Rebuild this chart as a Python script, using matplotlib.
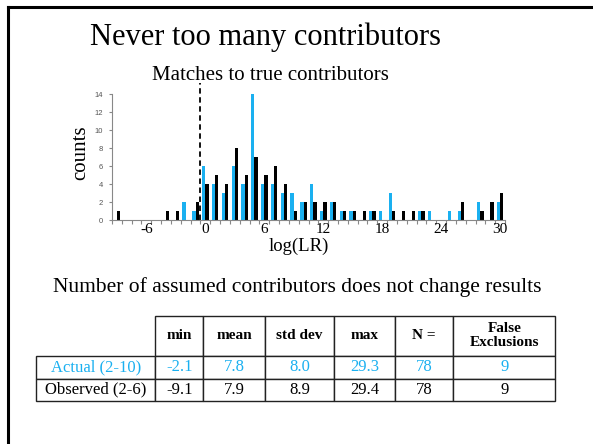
import matplotlib.pyplot as plt
import numpy as np
from matplotlib.lines import Line2D

# histogram of log(LR) per category
bins = list(range(-9, 31))
actual = {-2: 2, -1: 1, 0: 6, 1: 4, 2: 3, 3: 6, 4: 4, 5: 14, 6: 4, 7: 4, 8: 3,
          9: 3, 10: 2, 11: 4, 12: 1, 13: 2, 14: 1, 15: 1, 17: 1, 18: 1, 19: 3,
          22: 1, 23: 1, 25: 1, 26: 1, 28: 2, 30: 2}
observed = {-9: 1, -4: 1, -3: 1, -1: 2, 0: 4, 1: 5, 2: 4, 3: 8, 4: 5, 5: 7,
            6: 5, 7: 6, 8: 4, 9: 1, 10: 2, 11: 2, 12: 2, 13: 2, 14: 1, 15: 1,
            16: 1, 17: 1, 19: 1, 20: 1, 21: 1, 22: 1, 26: 2, 28: 1, 29: 2, 30: 3}
actual_counts = [actual.get(b, 0) for b in bins]
observed_counts = [observed.get(b, 0) for b in bins]
xtick_labels = [-6, 0, 6, 12, 18, 24, 30]
ytick_vals = list(range(0, 15, 2))

# summary table
col_labels = ["", "min", "mean", "std dev", "max", "N =", "False\nExclusions"]
row_actual = ["Actual (2-10)", "-2.1", "7.8", "8.0", "29.3", "78", "9"]
row_observed = ["Observed (2-6)", "-9.1", "7.9", "8.9", "29.4", "78", "9"]

BLUE = "#1AB0F0"
SERIF = "Liberation Serif"
W, H = 593, 444

fig = plt.figure(figsize=(W / 100, H / 100), dpi=100)

# slide frame (left and top edges)
fig.add_artist(Line2D([8 / W, 8 / W], [0, 1 - 7 / H], color="black", lw=2.2))
fig.add_artist(Line2D([8 / W, 1], [1 - 7 / H, 1 - 7 / H], color="black", lw=2.2))

fig.text(266 / W, 1 - 37 / H, "Never too many contributors", family=SERIF,
         fontsize=22, ha="center", va="center")
fig.text(270 / W, 1 - 76 / H, "Matches to true contributors", family=SERIF,
         fontsize=15, ha="center", va="center")

ax = fig.add_axes([112 / W, 1 - 220 / H, 393 / W, 126 / H])
x = np.array(bins)
bw = 1 / 3
ax.bar(x - bw / 2, actual_counts, width=bw, color=BLUE)
ax.bar(x + bw / 2, observed_counts, width=bw, color="black")
ax.plot([-0.5, -0.5], [0, 15.2], color="black", ls=(0, (3, 2)), lw=1.3, clip_on=False)

ax.set_xlim(-9.5, 30.5)
ax.set_ylim(0, 14)
ax.set_xticks(np.arange(-9.5, 31, 1))
ax.set_xticklabels([])
ax.set_xticks(xtick_labels, minor=True)
ax.set_xticklabels([str(v) for v in xtick_labels], minor=True, family=SERIF, fontsize=11)
ax.tick_params(axis="x", which="major", length=3, color="#888888")
ax.tick_params(axis="x", which="minor", length=0, pad=2.5)
ax.set_yticks(ytick_vals)
ax.tick_params(axis="y", length=2.5, color="#888888", labelsize=5.5, labelcolor="#555555", pad=4)
for lab in ax.get_yticklabels():
    lab.set_family("Liberation Sans")
for side in ["top", "right"]:
    ax.spines[side].set_visible(False)
for side in ["left", "bottom"]:
    ax.spines[side].set_color("#888888")
    ax.spines[side].set_linewidth(0.8)

fig.text(81 / W, 1 - 153 / H, "counts", family=SERIF, fontsize=15,
         rotation=90, ha="center", va="center")
fig.text(299 / W, 1 - 246 / H, "log(LR)", family=SERIF, fontsize=13.5,
         ha="center", va="center")

fig.text(297 / W, 1 - 287 / H, "Number of assumed contributors does not change results",
         family=SERIF, fontsize=15.5, ha="center", va="center")

# table
col_w = [119.3, 48, 61.7, 69.3, 60.7, 58.3, 102]
row_h = [40, 23.3, 21.7]
tax = fig.add_axes([36 / W, 1 - 400.7 / H, sum(col_w) / W, sum(row_h) / H])
tax.axis("off")
table = tax.table(cellText=[col_labels, row_actual, row_observed],
                  cellLoc="center", bbox=[0, 0, 1, 1])
table.auto_set_font_size(False)
for (r, c), cell in table.get_celld().items():
    cell.set_width(col_w[c])
    cell.set_height(row_h[r])
    cell.set_edgecolor("#222222")
    cell.set_linewidth(1.0)
    txt = cell.get_text()
    txt.set_family(SERIF)
    if r == 0:
        txt.set_fontweight("bold")
        txt.set_fontsize(11)
        txt.set_linespacing(1.05)
        if c == 0:
            cell.visible_edges = ""
    else:
        txt.set_fontsize(12)
        if r == 1:
            txt.set_color(BLUE)

fig.savefig("out.png", dpi=100)
